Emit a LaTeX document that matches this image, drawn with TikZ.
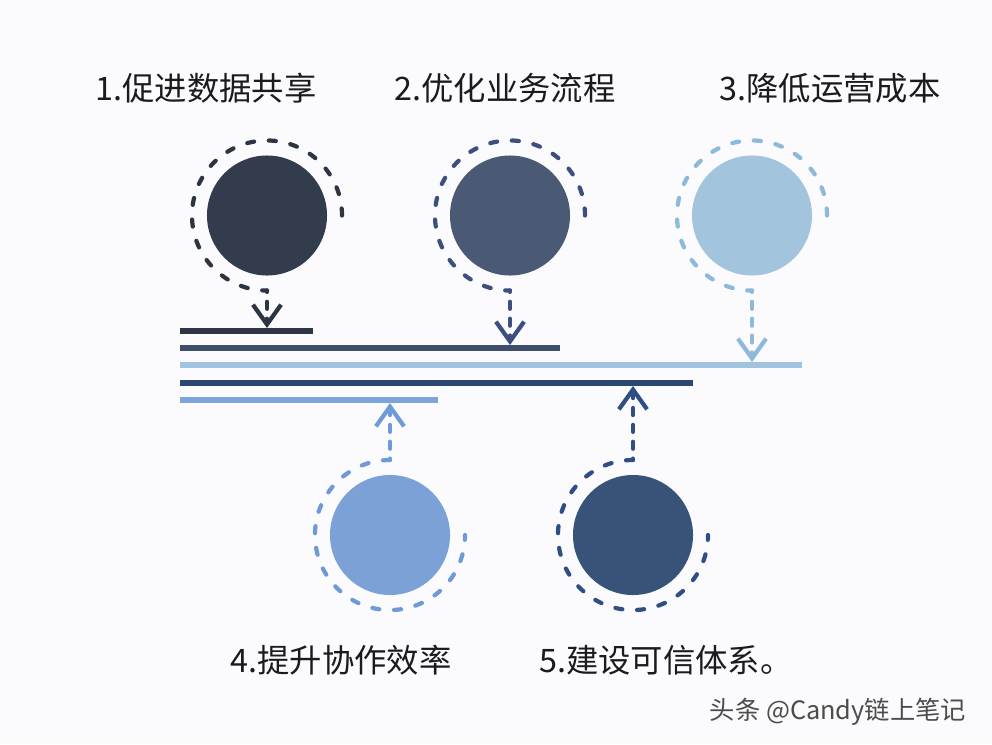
\documentclass[tikz,border=0pt]{standalone}
\usepackage{fontspec}
\newfontfamily\cjk{Noto Sans CJK SC}
\usetikzlibrary{arrows.meta}
\definecolor{paper}{HTML}{FBFBFD}
\definecolor{ink}{HTML}{1B1B1F}
\definecolor{fillA}{HTML}{323C4C}
\definecolor{fillB}{HTML}{4A5A74}
\definecolor{fillC}{HTML}{A2C4DD}
\definecolor{fillD}{HTML}{7BA1D6}
\definecolor{fillE}{HTML}{37537A}
\definecolor{ringA}{HTML}{2D3542}
\definecolor{ringB}{HTML}{3C4F80}
\definecolor{ringC}{HTML}{8DB9DA}
\definecolor{ringD}{HTML}{6F9ADA}
\definecolor{ringE}{HTML}{2F4E85}
\definecolor{barA}{HTML}{2E3646}
\definecolor{barB}{HTML}{3E4E6C}
\definecolor{barC}{HTML}{A0C4E0}
\definecolor{barD}{HTML}{2C4872}
\definecolor{barE}{HTML}{7CA4D8}
\tikzset{
disc/.style={circle,minimum size=3cm,inner sep=0pt,outer sep=0pt},
halo/.style={circle,minimum size=3.75cm,inner sep=0pt,outer sep=0pt},
ring/.style={line width=3pt,dash pattern=on 5pt off 10.5pt,line cap=round},
drop/.style={line width=3pt,line cap=round,dash pattern=on 5pt off 7pt,dash phase=4pt,-{Straight Barb[length=14pt,width=20pt]}},
bar/.style={line width=4.3pt},
lbl/.style={font=\cjk\fontsize{23}{28}\selectfont,text=ink,inner sep=0pt},
wmark/.style={font=\cjk\fontsize{18}{22}\selectfont,text=black!70,inner sep=0pt}}
\begin{document}
\begin{tikzpicture}[x=0.025cm,y=-0.025cm]
\fill[paper] (0,0) rectangle (992,744);
\useasboundingbox (0,0) rectangle (992,744);
% labels
\node[lbl] (l1) at (206,88) {1.促进数据共享};
\node[lbl] (l2) at (505,88) {2.优化业务流程};
\node[lbl] (l3) at (830,88) {3.降低运营成本};
\node[lbl] (l4) at (341,660) {4.提升协作效率};
\node[lbl] (l5) at (666,660) {5.建设可信体系。};
\node[wmark] (wm) at (838,712) {头条 @Candy链上笔记};
% circles
\node[disc,fill=fillA] (d1) at (267,215.5) {};
\node[disc,fill=fillB] (d2) at (510,215.5) {};
\node[disc,fill=fillC] (d3) at (752,215.5) {};
\node[disc,fill=fillD] (d4) at (390,535) {};
\node[disc,fill=fillE] (d5) at (633,535) {};
\foreach \i in {1,...,5} \node[halo] (h\i) at (d\i) {};
% bars
\coordinate (a1) at (180,331); \coordinate (b1) at (313,331);
\coordinate (a2) at (180,348); \coordinate (b2) at (560,348);
\coordinate (a3) at (180,365); \coordinate (b3) at (802,365);
\coordinate (a4) at (180,383); \coordinate (b4) at (693,383);
\coordinate (a5) at (180,400); \coordinate (b5) at (438,400);
\draw[bar,barA] (a1)--(b1);
\draw[bar,barB] (a2)--(b2);
\draw[bar,barC] (a3)--(b3);
\draw[bar,barD] (a4)--(b4);
\draw[bar,barE] (a5)--(b5);
% arrow tips on bars
\coordinate (t1) at (267,328);
\coordinate (t2) at (510,345);
\coordinate (t3) at (752,362);
\coordinate (t4) at (390,403);
\coordinate (t5) at (633,386);
% rings
\draw[ring,ringA] (h1.0) arc[start angle=0,end angle=270,radius=1.875cm];
\draw[ring,ringB] (h2.0) arc[start angle=0,end angle=270,radius=1.875cm];
\draw[ring,ringC] (h3.0) arc[start angle=0,end angle=270,radius=1.875cm];
\draw[ring,ringD] (h4.90) arc[start angle=90,end angle=360,radius=1.875cm];
\draw[ring,ringE] (h5.90) arc[start angle=90,end angle=360,radius=1.875cm];
\draw[drop,ringA] (h1.south)--(t1);
\draw[drop,ringB] (h2.south)--(t2);
\draw[drop,ringC] (h3.south)--(t3);
\draw[drop,ringD] (h4.north)--(t4);
\draw[drop,ringE] (h5.north)--(t5);
\end{tikzpicture}
\end{document}
